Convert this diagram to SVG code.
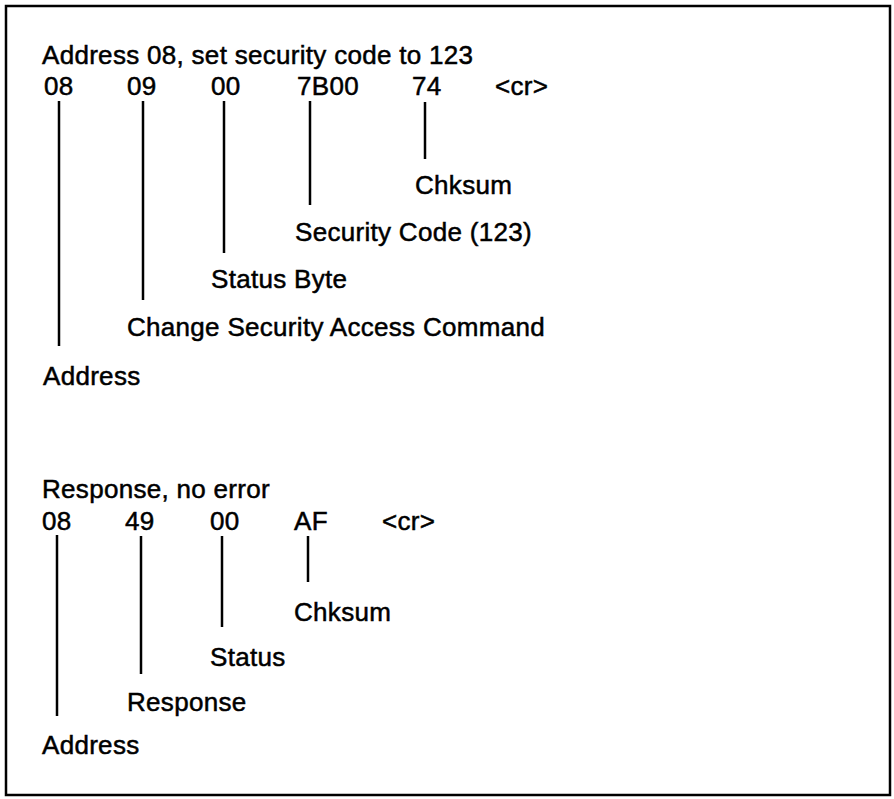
<svg xmlns="http://www.w3.org/2000/svg" width="894" height="799" viewBox="0 0 894 799">
  <style>
    text { font-family: "Liberation Sans", Arial, sans-serif; font-size: 26px; letter-spacing: 0.3px; fill: #000; stroke: #000; stroke-width: 0.5px; }
    .lead { stroke: #000; stroke-width: 2.5; fill: none; }
    .frame { stroke: #000; stroke-width: 2.5; fill: #fff; }
  </style>
  <rect class="frame" x="6" y="6" width="884" height="789"/>

  <g id="command">
    <g id="cmd-title"><text x="42" y="64">Address 08, set security code to 123</text></g>
    <g id="cmd-08"><text x="44" y="95">08</text></g>
    <g id="cmd-09"><text x="127" y="95">09</text></g>
    <g id="cmd-00"><text x="211" y="95">00</text></g>
    <g id="cmd-7B00"><text x="297" y="95">7B00</text></g>
    <g id="cmd-74"><text x="412" y="95">74</text></g>
    <g id="cmd-cr"><text x="495" y="95">&lt;cr&gt;</text></g>
    <g id="cmd-lbl-chksum"><text x="415" y="194">Chksum</text></g>
    <g id="cmd-lbl-security"><text x="295" y="241">Security Code (123)</text></g>
    <g id="cmd-lbl-status"><text x="211" y="288">Status Byte</text></g>
    <g id="cmd-lbl-change"><text x="127" y="336">Change Security Access Command</text></g>
    <g id="cmd-lbl-address"><text x="43" y="385">Address</text></g>
  </g>

  <g id="response">
    <g id="rsp-title"><text x="42" y="498">Response, no error</text></g>
    <g id="rsp-08"><text x="42" y="530">08</text></g>
    <g id="rsp-49"><text x="125" y="530">49</text></g>
    <g id="rsp-00"><text x="210" y="530">00</text></g>
    <g id="rsp-AF"><text x="294" y="530">AF</text></g>
    <g id="rsp-cr"><text x="382" y="530">&lt;cr&gt;</text></g>
    <g id="rsp-lbl-chksum"><text x="294" y="621">Chksum</text></g>
    <g id="rsp-lbl-status"><text x="210" y="666">Status</text></g>
    <g id="rsp-lbl-response"><text x="127" y="711">Response</text></g>
    <g id="rsp-lbl-address"><text x="42" y="754">Address</text></g>
  </g>

  <g id="connectors">
    <line class="lead" x1="59" y1="101" x2="59" y2="346"/>
    <line class="lead" x1="143" y1="101" x2="143" y2="300"/>
    <line class="lead" x1="224" y1="101" x2="224" y2="253"/>
    <line class="lead" x1="310" y1="101" x2="310" y2="205"/>
    <line class="lead" x1="425" y1="102" x2="425" y2="159"/>

    <line class="lead" x1="57" y1="535" x2="57" y2="716"/>
    <line class="lead" x1="141" y1="536" x2="141" y2="674"/>
    <line class="lead" x1="222" y1="536" x2="222" y2="627"/>
    <line class="lead" x1="308" y1="536" x2="308" y2="582"/>
  </g>
</svg>
